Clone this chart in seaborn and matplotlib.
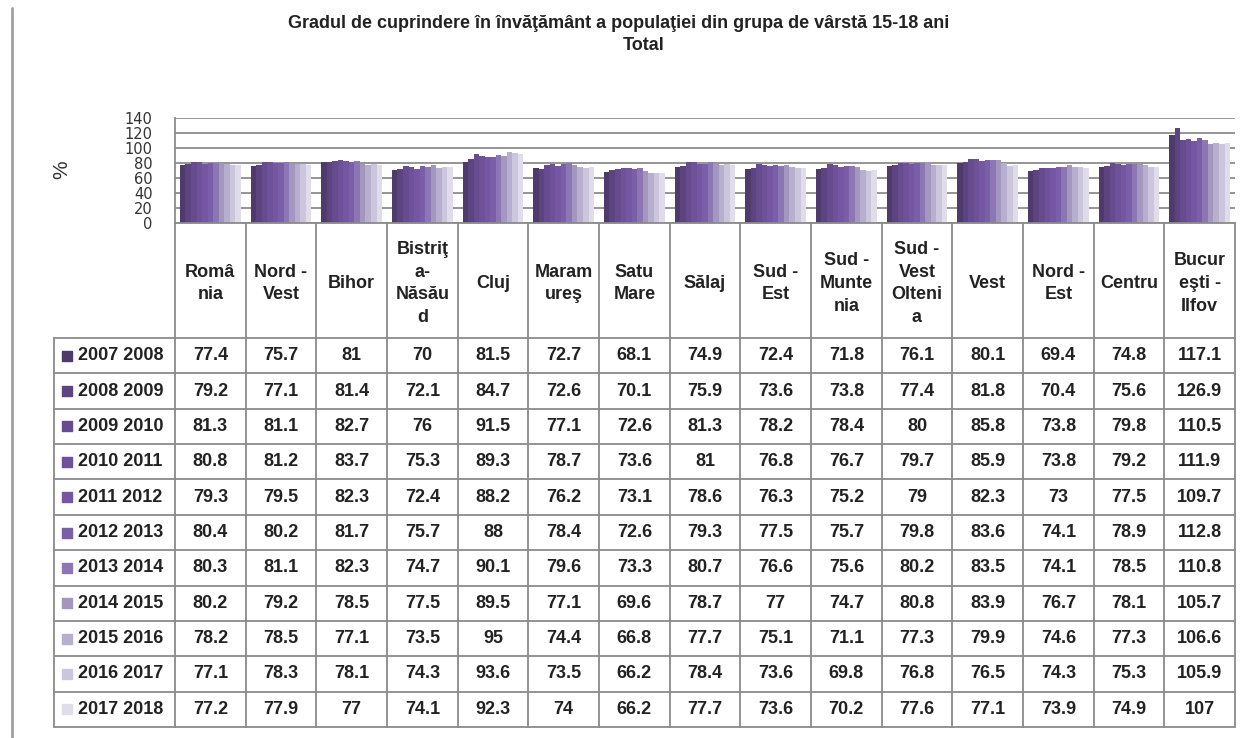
import pandas as pd
import numpy as np
import matplotlib
matplotlib.use("Agg")
import matplotlib.pyplot as plt
import seaborn as sns

regions = ["România", "Nord - Vest", "Bihor", "Bistriţa-Năsăud", "Cluj", "Maramureş",
           "Satu Mare", "Sălaj", "Sud - Est", "Sud - Muntenia", "Sud - Vest Oltenia",
           "Vest", "Nord - Est", "Centru", "Bucureşti - Ilfov"]
# header text as wrapped in the original table
region_labels = ["Româ\nnia", "Nord -\nVest", "Bihor", "Bistriţ\na-\nNăsău\nd", "Cluj",
                 "Maram\nureş", "Satu\nMare", "Sălaj", "Sud -\nEst", "Sud -\nMunte\nnia",
                 "Sud -\nVest\nOlteni\na", "Vest", "Nord -\nEst", "Centru", "Bucur\neşti -\nIlfov"]

years = ["2007 2008", "2008 2009", "2009 2010", "2010 2011", "2011 2012", "2012 2013",
         "2013 2014", "2014 2015", "2015 2016", "2016 2017", "2017 2018"]

y2007 = [77.4, 75.7, 81, 70, 81.5, 72.7, 68.1, 74.9, 72.4, 71.8, 76.1, 80.1, 69.4, 74.8, 117.1]
y2008 = [79.2, 77.1, 81.4, 72.1, 84.7, 72.6, 70.1, 75.9, 73.6, 73.8, 77.4, 81.8, 70.4, 75.6, 126.9]
y2009 = [81.3, 81.1, 82.7, 76, 91.5, 77.1, 72.6, 81.3, 78.2, 78.4, 80, 85.8, 73.8, 79.8, 110.5]
y2010 = [80.8, 81.2, 83.7, 75.3, 89.3, 78.7, 73.6, 81, 76.8, 76.7, 79.7, 85.9, 73.8, 79.2, 111.9]
y2011 = [79.3, 79.5, 82.3, 72.4, 88.2, 76.2, 73.1, 78.6, 76.3, 75.2, 79, 82.3, 73, 77.5, 109.7]
y2012 = [80.4, 80.2, 81.7, 75.7, 88, 78.4, 72.6, 79.3, 77.5, 75.7, 79.8, 83.6, 74.1, 78.9, 112.8]
y2013 = [80.3, 81.1, 82.3, 74.7, 90.1, 79.6, 73.3, 80.7, 76.6, 75.6, 80.2, 83.5, 74.1, 78.5, 110.8]
y2014 = [80.2, 79.2, 78.5, 77.5, 89.5, 77.1, 69.6, 78.7, 77, 74.7, 80.8, 83.9, 76.7, 78.1, 105.7]
y2015 = [78.2, 78.5, 77.1, 73.5, 95, 74.4, 66.8, 77.7, 75.1, 71.1, 77.3, 79.9, 74.6, 77.3, 106.6]
y2016 = [77.1, 78.3, 78.1, 74.3, 93.6, 73.5, 66.2, 78.4, 73.6, 69.8, 76.8, 76.5, 74.3, 75.3, 105.9]
y2017 = [77.2, 77.9, 77, 74.1, 92.3, 74, 66.2, 77.7, 73.6, 70.2, 77.6, 77.1, 73.9, 74.9, 107]
series = [y2007, y2008, y2009, y2010, y2011, y2012, y2013, y2014, y2015, y2016, y2017]

colors = ["#4f3b6b", "#5d4481", "#674b8f", "#6e5198", "#7556a2", "#7b5ea8",
          "#8c76b4", "#a397c0", "#b8afcf", "#ccc6dd", "#e0dce9"]

df = pd.DataFrame([(r, yr, v) for yr, vals in zip(years, series) for r, v in zip(regions, vals)],
                  columns=["regiune", "an", "valoare"])

sns.set_style("white")
plt.rcParams["font.family"] = ["Liberation Sans", "DejaVu Sans"]

W, H = 1245, 738
fig = plt.figure(figsize=(W / 100, H / 100), dpi=100)

def fx(px):
    return px / W

def fy(py):
    return 1 - py / H

left, right = 175, 1235
top, zero, tbottom = 118, 223, 727
ax = fig.add_axes([fx(left), fy(zero), fx(right - left), (zero - top) / H])
sns.barplot(data=df, x="regiune", y="valoare", hue="an", palette=colors, width=0.86,
            gap=0, saturation=1, legend=False, ax=ax, linewidth=0)
ax.set_xlim(-0.5, 14.5)
ax.set_ylim(0, 140)
ax.set_yticks(range(0, 141, 20))
ax.set_yticklabels([str(t) for t in range(0, 141, 20)], family="DejaVu Sans", fontsize=10.5, color="#333333")
ax.tick_params(axis="y", length=0, pad=16)
ax.tick_params(axis="x", length=0, labelbottom=False)
ax.set_xlabel("")
ax.set_ylabel("")
ax.grid(axis="y", color="#8c8c8c", lw=1.3)
ax.set_axisbelow(True)
for s in ["top", "right", "bottom"]:
    ax.spines[s].set_visible(False)
ax.spines["left"].set_color("#8c8c8c")
ax.spines["left"].set_linewidth(1.3)

# data table under the chart
leg_left = 54
unit = (right - left) / 15
tax = fig.add_axes([fx(leg_left), fy(tbottom), fx(right - leg_left), (tbottom - zero) / H])
x0 = -0.5 - (left - leg_left) / unit
tax.set_xlim(x0, 14.5)
tax.set_ylim(tbottom - zero, 0)
tax.axis("off")
head_h = 338 - zero
row_h = (tbottom - 338) / 11
lc = "#8a8a8a"
for i in range(16):
    tax.plot([i - 0.5, i - 0.5], [0, tbottom - zero], color=lc, lw=1.3, clip_on=False)
tax.plot([x0, x0], [head_h, tbottom - zero], color=lc, lw=1.3, clip_on=False)
tax.plot([-0.5, 14.5], [0, 0], color=lc, lw=1.3, clip_on=False)
for k in range(12):
    yy = head_h + k * row_h
    tax.plot([x0, 14.5], [yy, yy], color=lc, lw=1.3, clip_on=False)

tc = "#222222"
for i, lab in enumerate(region_labels):
    tax.text(i, head_h / 2 + 3, lab, ha="center", va="center", fontsize=13, fontweight="bold",
             color=tc, linespacing=1.45)
for k, (yr, vals) in enumerate(zip(years, series)):
    yc = head_h + (k + 0.5) * row_h
    tax.scatter([x0 + 13 / unit], [yc], marker="s", s=55, color=colors[k], clip_on=False)
    tax.text(x0 + 24 / unit, yc, yr, ha="left", va="center", fontsize=13, fontweight="bold", color=tc)
    for i, v in enumerate(vals):
        tax.text(i, yc, f"{v:g}", ha="center", va="center", fontsize=13, fontweight="bold", color=tc)

fig.text(fx(619), fy(24), "Gradul de cuprindere în învăţământ a populaţiei din grupa de vârstă 15-18 ani",
         ha="center", va="center", fontsize=13, fontweight="bold", color=tc)
fig.text(fx(644), fy(46), "Total", ha="center", va="center", fontsize=13, fontweight="bold", color=tc)
fig.text(fx(62), fy(170), "%", ha="center", va="center", rotation=90, fontsize=15, color="#333333")
fig.add_artist(plt.Line2D([fx(12), fx(12)], [fy(8), 0], color="#a0a0a0", lw=2))

fig.savefig("out.png", dpi=100)
